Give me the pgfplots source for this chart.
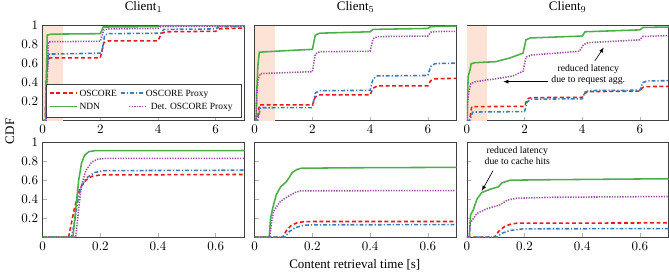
\documentclass[border=0pt]{standalone}
\usepackage{fontspec}
\setmainfont{Liberation Serif}
\usepackage{pgfplots}
\pgfplotsset{compat=1.18}
\usetikzlibrary{arrows.meta}

\definecolor{cred}{RGB}{228,26,28}
\definecolor{cblue}{RGB}{55,126,184}
\definecolor{cgreen}{RGB}{77,175,74}
\definecolor{cpurple}{RGB}{152,78,163}
\definecolor{shade}{RGB}{253,226,214}

\tikzset{
  sOS/.style={draw=cred, line width=1.2pt, dash pattern=on 3pt off 2pt},
  sPX/.style={draw=cblue, line width=1.2pt, dash pattern=on 3pt off 1.5pt on 1pt off 1.5pt},
  sND/.style={draw=cgreen, line width=1.2pt, solid},
  sDT/.style={draw=cpurple, line width=1.2pt, dash pattern=on 1pt off 1pt},
  legtxt/.style={font=\fontsize{7.3}{8.5}\selectfont, anchor=base west, inner sep=0pt},
}

\pgfplotsset{
  base/.style={width=155.4pt, height=73.1pt, scale only axis,
    ymin=0, ymax=1, tick pos=left, tick align=inside,
    major tick length=3pt, tick style={gray!60, line width=0.4pt},
    axis line style={black!75},
    ytick={0.2,0.4,0.6,0.8,1},
    tick label style={font=\fontsize{10}{12}\selectfont},
    title style={font=\fontsize{10}{12}\selectfont, at={(0.5,1)}, anchor=base, inner sep=0pt, yshift=5.5pt},
    clip=true},
  toprow/.style={base, xmin=0, xmax=7, xtick={0,2,4,6}},
  botrow/.style={base, xmin=0, xmax=0.7, xtick={0,0.2,0.4,0.6}},
  noy/.style={yticklabels={}},
  shd/.style={draw=none, fill=shade, forget plot},
}

\begin{document}
\begin{tikzpicture}
\path (-32.8pt,-30.5pt) rectangle (481.8pt,182.5pt);

% ---------------- Client 1 top
\begin{axis}[toprow, at={(0pt,89.7pt)}, anchor=south west, title={Client$_1$}]
\addplot[shd] coordinates {(0,1) (0.7,1)} \closedcycle;
\addplot[sOS] coordinates {(0,0)(0.09,0)(0.12,0.4)(0.18,0.64)(0.25,0.66)(2.0,0.66)(2.12,0.82)(2.3,0.84)(4.0,0.84)(4.12,0.92)(4.3,0.935)(6.0,0.94)(6.12,0.965)(7,0.975)};
\addplot[sPX] coordinates {(0,0)(0.1,0)(0.13,0.4)(0.2,0.7)(2.05,0.71)(2.15,0.9)(2.3,0.915)(4.1,0.92)(4.2,0.96)(6.0,0.965)(6.1,0.985)(7,0.99)};
\addplot[sND] coordinates {(0,0)(0.1,0)(0.16,0.9)(0.3,0.91)(2.0,0.915)(2.1,0.985)(4,0.99)(4.1,1)(7,1)};
\addplot[sDT] coordinates {(0,0)(0.12,0)(0.2,0.83)(2.0,0.835)(2.12,0.955)(2.3,0.965)(4.0,0.97)(4.1,0.99)(7,0.995)};
\end{axis}

% legend box (Client 1 top)
\draw[black!75, fill=white, line width=0.5pt] (2.5pt,92.3pt) rectangle (153.1pt,117.7pt);
\draw[sOS] (5.6pt,110.8pt) -- (26.2pt,110.8pt);
\node[legtxt] at (28.2pt,108.4pt) {OSCORE};
\draw[sPX] (60.2pt,110.8pt) -- (77.4pt,110.8pt);
\node[legtxt] at (79.2pt,108.4pt) {OSCORE Proxy};
\draw[sND] (5.6pt,100.5pt) -- (26.2pt,100.5pt);
\node[legtxt] at (28.2pt,98.1pt) {NDN};
\draw[sDT] (66.5pt,100.5pt) -- (80.5pt,100.5pt);
\node[legtxt] at (83.1pt,98.1pt) {Det. OSCORE Proxy};

% ---------------- Client 5 top
\begin{axis}[toprow, noy, at={(163.2pt,89.7pt)}, anchor=south west, title={Client$_5$}]
\addplot[shd] coordinates {(0,1) (0.7,1)} \closedcycle;
\addplot[sOS] coordinates {(0,0)(0.097,0)(0.16,0.165)(2.0,0.165)(2.1,0.25)(2.25,0.27)(4.0,0.27)(4.1,0.34)(4.25,0.365)(6.0,0.365)(6.1,0.42)(6.25,0.44)(7,0.445)};
\addplot[sPX] coordinates {(0,0)(0.1,0)(0.2,0.135)(2.0,0.137)(2.1,0.29)(2.25,0.315)(4.0,0.318)(4.1,0.44)(4.25,0.47)(6.0,0.475)(6.1,0.57)(6.25,0.6)(7,0.605)};
\addplot[sND] coordinates {(0,0)(0.05,0)(0.07,0.3)(0.11,0.58)(0.16,0.72)(1.0,0.735)(2.0,0.75)(2.1,0.9)(2.25,0.92)(4.0,0.935)(4.1,0.96)(6.0,0.97)(6.1,0.99)(7,0.995)};
\addplot[sDT] coordinates {(0,0)(0.05,0)(0.07,0.29)(0.12,0.44)(0.2,0.495)(2.0,0.515)(2.1,0.70)(2.25,0.725)(4.0,0.73)(4.1,0.86)(4.25,0.884)(6.0,0.89)(6.1,0.93)(6.25,0.937)(7,0.94)};
\end{axis}

% ---------------- Client 9 top
\begin{axis}[toprow, noy, at={(326.4pt,89.7pt)}, anchor=south west, title={Client$_9$}]
\addplot[shd] coordinates {(0,1) (0.7,1)} \closedcycle;
\addplot[sOS] coordinates {(0,0)(0.096,0)(0.17,0.147)(2.0,0.15)(2.1,0.23)(2.25,0.242)(4.0,0.245)(4.1,0.29)(4.25,0.305)(6.0,0.31)(6.1,0.35)(6.25,0.358)(7,0.36)};
\addplot[sPX] coordinates {(0,0)(0.104,0)(0.2,0.09)(2.0,0.095)(2.1,0.2)(2.25,0.225)(4.0,0.23)(4.1,0.3)(4.25,0.316)(6.0,0.32)(6.1,0.4)(6.25,0.418)(7,0.42)};
\addplot[sND] coordinates {(0,0)(0.01,0)(0.03,0.3)(0.05,0.47)(0.11,0.53)(0.15,0.6)(0.3,0.61)(1.0,0.62)(1.5,0.66)(1.95,0.71)(2.05,0.85)(2.2,0.87)(4.0,0.89)(4.1,0.935)(6.0,0.955)(6.1,0.98)(7,0.985)};
\addplot[sDT] coordinates {(0,0)(0.01,0)(0.03,0.2)(0.07,0.3)(0.14,0.39)(0.3,0.41)(1.0,0.44)(1.6,0.47)(1.95,0.52)(2.05,0.67)(2.25,0.69)(3.9,0.73)(4.05,0.8)(4.2,0.82)(6.0,0.85)(6.1,0.885)(7,0.895)};
\node[font=\fontsize{7.5}{8.2}\selectfont, align=center] at (axis cs:4.21,0.48) {reduced latency\\due to request agg.};
\draw[-{Latex[length=4pt,width=3pt]}, line width=0.5pt] (axis cs:2.8,0.41) -- (axis cs:1.26,0.41);
\draw[-{Latex[length=4pt,width=3pt]}, line width=0.5pt] (axis cs:4.44,0.63) -- (axis cs:4.75,0.77);
\end{axis}

% ---------------- Client 1 bottom
\begin{axis}[botrow, at={(0pt,0pt)}, anchor=south west]
\addplot[sOS] coordinates {(0,0)(0.09,0)(0.1,0.15)(0.11,0.3)(0.12,0.42)(0.13,0.52)(0.15,0.6)(0.17,0.64)(0.2,0.655)(0.7,0.66)};
\addplot[sPX] coordinates {(0,0)(0.1,0)(0.11,0.15)(0.12,0.35)(0.13,0.5)(0.15,0.62)(0.18,0.68)(0.21,0.70)(0.7,0.705)};
\addplot[sND] coordinates {(0,0)(0.105,0)(0.115,0.3)(0.125,0.6)(0.135,0.78)(0.145,0.86)(0.16,0.9)(0.18,0.91)(0.7,0.912)};
\addplot[sDT] coordinates {(0,0)(0.115,0)(0.125,0.3)(0.135,0.55)(0.15,0.7)(0.17,0.79)(0.19,0.82)(0.22,0.83)(0.7,0.83)};
\end{axis}

% ---------------- Client 5 bottom
\begin{axis}[botrow, noy, at={(163.2pt,0pt)}, anchor=south west]
\addplot[sOS] coordinates {(0,0)(0.097,0)(0.11,0.07)(0.125,0.12)(0.145,0.15)(0.17,0.163)(0.2,0.165)(0.7,0.165)};
\addplot[sPX] coordinates {(0,0)(0.105,0)(0.12,0.06)(0.14,0.1)(0.17,0.125)(0.2,0.13)(0.7,0.132)};
\addplot[sND] coordinates {(0,0)(0.05,0)(0.055,0.2)(0.062,0.3)(0.075,0.45)(0.09,0.53)(0.11,0.585)(0.12,0.63)(0.13,0.68)(0.145,0.71)(0.16,0.725)(0.3,0.73)(0.7,0.735)};
\addplot[sDT] coordinates {(0,0)(0.052,0)(0.058,0.15)(0.065,0.27)(0.087,0.37)(0.105,0.41)(0.122,0.44)(0.14,0.47)(0.16,0.488)(0.7,0.49)};
\end{axis}

% ---------------- Client 9 bottom
\begin{axis}[botrow, noy, at={(326.4pt,0pt)}, anchor=south west]
\addplot[sOS] coordinates {(0,0)(0.096,0)(0.11,0.06)(0.13,0.11)(0.15,0.135)(0.173,0.147)(0.7,0.15)};
\addplot[sPX] coordinates {(0,0)(0.104,0)(0.12,0.04)(0.15,0.07)(0.196,0.088)(0.7,0.09)};
\addplot[sND] coordinates {(0,0)(0.009,0)(0.013,0.235)(0.023,0.29)(0.035,0.4)(0.052,0.47)(0.081,0.505)(0.11,0.53)(0.121,0.57)(0.15,0.6)(0.3,0.605)(0.7,0.615)};
\addplot[sDT] coordinates {(0,0)(0.008,0)(0.012,0.15)(0.035,0.25)(0.07,0.3)(0.115,0.34)(0.14,0.39)(0.173,0.41)(0.3,0.42)(0.7,0.428)};
\node[font=\fontsize{7.5}{8.2}\selectfont, align=center] at (axis cs:0.175,0.86) {reduced latency\\due to cache hits};
\draw[-{Latex[length=4pt,width=3pt]}, line width=0.5pt] (axis cs:0.091,0.70) -- (axis cs:0.052,0.487);
\end{axis}

\node[rotate=90, font=\fontsize{10}{12}\selectfont, inner sep=0pt] at (-25.2pt,81.4pt) {CDF};
\node[font=\fontsize{10}{12}\selectfont, inner sep=0pt, anchor=base] at (240.2pt,-24pt) {Content retrieval time [s]};
\end{tikzpicture}
\end{document}
